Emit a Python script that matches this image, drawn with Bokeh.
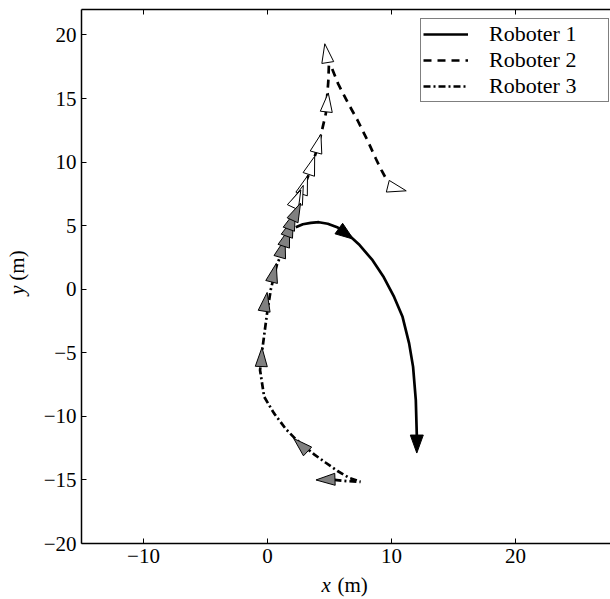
import numpy as np
from bokeh.plotting import figure
from bokeh.layouts import row, column
from bokeh.models import Range1d, LinearAxis, FixedTicker, Label, Legend, LegendItem
from bokeh.embed import file_html
from bokeh.resources import INLINE

# ---------------- data ----------------
x_ticks = [-10, 0, 10, 20]
x_tick_labels = ["\u221210", "0", "10", "20"]
y_ticks = [-20, -15, -10, -5, 0, 5, 10, 15, 20]
y_tick_labels = ["\u221220", "\u221215", "\u221210", "\u22125", "0", "5", "10", "15", "20"]

series_names = ["Roboter 1", "Roboter 2", "Roboter 3"]

# Roboter 1 (solid)
r1_x = [2.28, 2.85, 3.49, 4.14, 4.86, 5.67, 6.31, 7.36, 8.47, 9.38, 10.21, 10.89, 11.42, 11.74, 11.96, 12.04, 12.05]
r1_y = [4.87, 5.11, 5.22, 5.27, 5.15, 4.85, 4.48, 3.54, 2.28, 0.94, -0.61, -2.17, -4.26, -6.11, -8.73, -11.48, -12.3]
# heading markers (base x, base y, heading deg)
r1_mx = [5.75, 12.04]
r1_my = [4.77, -11.47]
r1_mh = [-36, -90]

# Roboter 2 (dashed)
r2_x = [2.04, 2.75, 3.33, 3.91, 4.30, 4.70, 4.90, 4.95, 5.10, 5.69, 6.45, 7.26, 8.06, 8.73, 9.19, 9.54]
r2_y = [6.45, 7.49, 9.03, 10.75, 12.10, 13.80, 16.30, 17.60, 17.60, 16.17, 14.72, 13.29, 11.71, 10.28, 9.36, 8.73]
r2_mx = [9.70, 4.86, 4.74, 3.91, 3.33, 2.75, 2.36, 2.04]
r2_my = [8.10, 17.83, 13.95, 10.75, 9.03, 7.49, 6.76, 6.45]
r2_mh = [-14, 99, 84, 75, 72, 72, 70, 65]

# Roboter 3 (dash-dot)
r3_x = [5.40, 6.50, 7.50, 6.60, 5.65, 4.70, 3.76, 2.28, 1.48, 0.53, -0.27, -0.60, -0.40, -0.05, 0.27, 0.75, 1.23, 1.63, 2.00, 2.50]
r3_y = [-15.00, -15.10, -15.15, -14.85, -14.30, -13.65, -12.99, -11.80, -11.00, -9.77, -8.46, -6.37, -4.60, -2.00, 0.00, 1.90, 3.07, 4.25, 5.30, 6.60]
r3_mx = [5.44, 3.23, -0.50, -0.27, 0.33, 0.99, 1.31, 1.56, 1.72, 2.02]
r3_my = [-14.95, -12.76, -6.08, -1.73, 0.57, 2.52, 3.38, 4.17, 4.72, 5.42]
r3_mh = [182, 137, 88, 81, 76, 74, 72, 70, 70, 65]

# ---------------- layout ----------------
X0, X1 = -15, 27.66
Y0, Y1 = -20, 22
PAGE_W, PAGE_H = 610, 599
YL_W = 30            # strip for the y-axis title
MAIN_W, MAIN_H = PAGE_W - YL_W, 573
XL_H = PAGE_H - MAIN_H   # strip for the x-axis title
BL, BR, BT, BB = 81 - YL_W, 0, 9, MAIN_H - 543
FW = MAIN_W - BL - BR
FH = MAIN_H - BT - BB
SX = FW / (X1 - X0)
SY = FH / (Y1 - Y0)
FONT = "Liberation Serif"


def blank_fig(w, h, xr, yr):
    f = figure(width=w, height=h, x_range=xr, y_range=yr, output_backend="svg",
               toolbar_location=None, min_border=0, x_axis_location=None,
               y_axis_location=None)
    f.grid.visible = False
    f.outline_line_color = None
    f.background_fill_color = "white"
    f.border_fill_color = "white"
    return f


p = figure(width=MAIN_W, height=MAIN_H, x_range=Range1d(X0, X1), y_range=Range1d(Y0, Y1),
           output_backend="svg", toolbar_location=None,
           min_border_left=BL, min_border_right=BR, min_border_top=BT, min_border_bottom=BB,
           x_axis_location=None, y_axis_location=None)
p.grid.visible = False
p.outline_line_color = None
p.background_fill_color = "white"
p.border_fill_color = "white"


def style_axis(ax, ticks, labels):
    ax.ticker = FixedTicker(ticks=ticks)
    ax.major_label_overrides = {t: l for t, l in zip(ticks, labels)}
    ax.major_tick_in = 5
    ax.major_tick_out = 0
    ax.minor_tick_in = 0
    ax.minor_tick_out = 0
    ax.axis_line_width = 1.5
    ax.axis_line_color = "black"
    ax.major_tick_line_width = 1
    ax.major_tick_line_color = "black"
    ax.major_label_text_font = FONT
    ax.major_label_text_color = "black"
    ax.major_label_text_font_size = "21px"


bottom = LinearAxis()
style_axis(bottom, x_ticks, x_tick_labels)
bottom.major_label_standoff = 5
p.add_layout(bottom, "below")

left = LinearAxis()
style_axis(left, y_ticks, y_tick_labels)
left.major_label_standoff = 5
p.add_layout(left, "left")

top = LinearAxis()
style_axis(top, x_ticks, ["" for _ in x_ticks])
top.major_label_standoff = 0
top.major_label_text_font_size = "1px"
p.add_layout(top, "above")


def triangles(bx, by, hd, L, Wd):
    xs, ys = [], []
    for x, y, h in zip(bx, by, hd):
        a = np.radians(h)
        ux, uy = np.cos(a), np.sin(a)
        tip = (x + L * ux / SX, y + L * uy / SY)
        c1 = (x - Wd / 2 * uy / SX, y + Wd / 2 * ux / SY)
        c2 = (x + Wd / 2 * uy / SX, y - Wd / 2 * ux / SY)
        xs.append([tip[0], c1[0], c2[0]])
        ys.append([tip[1], c1[1], c2[1]])
    return xs, ys


l2 = p.line(r2_x, r2_y, line_color="black", line_width=2.7, line_dash="8 6")
l3 = p.line(r3_x, r3_y, line_color="black", line_width=2.7, line_dash="7 3 2 3")
l1 = p.line(r1_x, r1_y, line_color="black", line_width=2.7)

xs, ys = triangles(r2_mx, r2_my, r2_mh, 19, 12)
p.patches(xs, ys, fill_color="white", line_color="black", line_width=1)
xs, ys = triangles(r3_mx, r3_my, r3_mh, 19, 12)
p.patches(xs, ys, fill_color="#808080", line_color="black", line_width=1)
xs, ys = triangles(r1_mx, r1_my, r1_mh, 18, 13)
p.patches(xs, ys, fill_color="black", line_color="black", line_width=1)

legend = Legend(items=[LegendItem(label=series_names[0], renderers=[l1]),
                       LegendItem(label=series_names[1], renderers=[l2]),
                       LegendItem(label=series_names[2], renderers=[l3])],
                location=(339, 441))
legend.label_text_font = FONT
legend.label_text_font_size = "22px"
legend.label_text_color = "black"
legend.border_line_color = "black"
legend.border_line_width = 1.5
legend.background_fill_color = "white"
legend.background_fill_alpha = 1
legend.padding = 2
legend.spacing = 0
legend.glyph_width = 45
legend.glyph_height = 20
legend.label_height = 20
legend.label_standoff = 21
legend.label_width = 117
legend.margin = 0
p.add_layout(legend, "center")

# ---- y-axis title strip (coordinates in page pixels, y downward) ----
yfig = blank_fig(YL_W, MAIN_H, Range1d(0, YL_W), Range1d(MAIN_H, 0))
YT_X, YT_Y = 16, 306
yfig.add_layout(Label(x=YT_X, y=YT_Y, text="y", text_font=FONT, text_font_style="italic",
                      text_font_size="21px", text_color="black", text_align="left",
                      text_baseline="alphabetic", angle=np.pi / 2))
yfig.add_layout(Label(x=YT_X, y=YT_Y - 15, text="(m)", text_font=FONT,
                      text_font_size="21px", text_color="black", text_align="left",
                      text_baseline="alphabetic", angle=np.pi / 2))

# ---- x-axis title strip ----
xfig = blank_fig(PAGE_W, XL_H, Range1d(0, PAGE_W), Range1d(XL_H, 0))
XT_X, XT_Y = 321, 584 - MAIN_H
xfig.add_layout(Label(x=XT_X, y=XT_Y, text="x", text_font=FONT, text_font_style="italic",
                      text_font_size="21px", text_color="black", text_align="left",
                      text_baseline="alphabetic"))
xfig.add_layout(Label(x=XT_X + 16, y=XT_Y, text="(m)", text_font=FONT,
                      text_font_size="21px", text_color="black", text_align="left",
                      text_baseline="alphabetic"))

layout = column(row(yfig, p, spacing=0), xfig, spacing=0)
open("out.html", "w").write(file_html(layout, INLINE))
